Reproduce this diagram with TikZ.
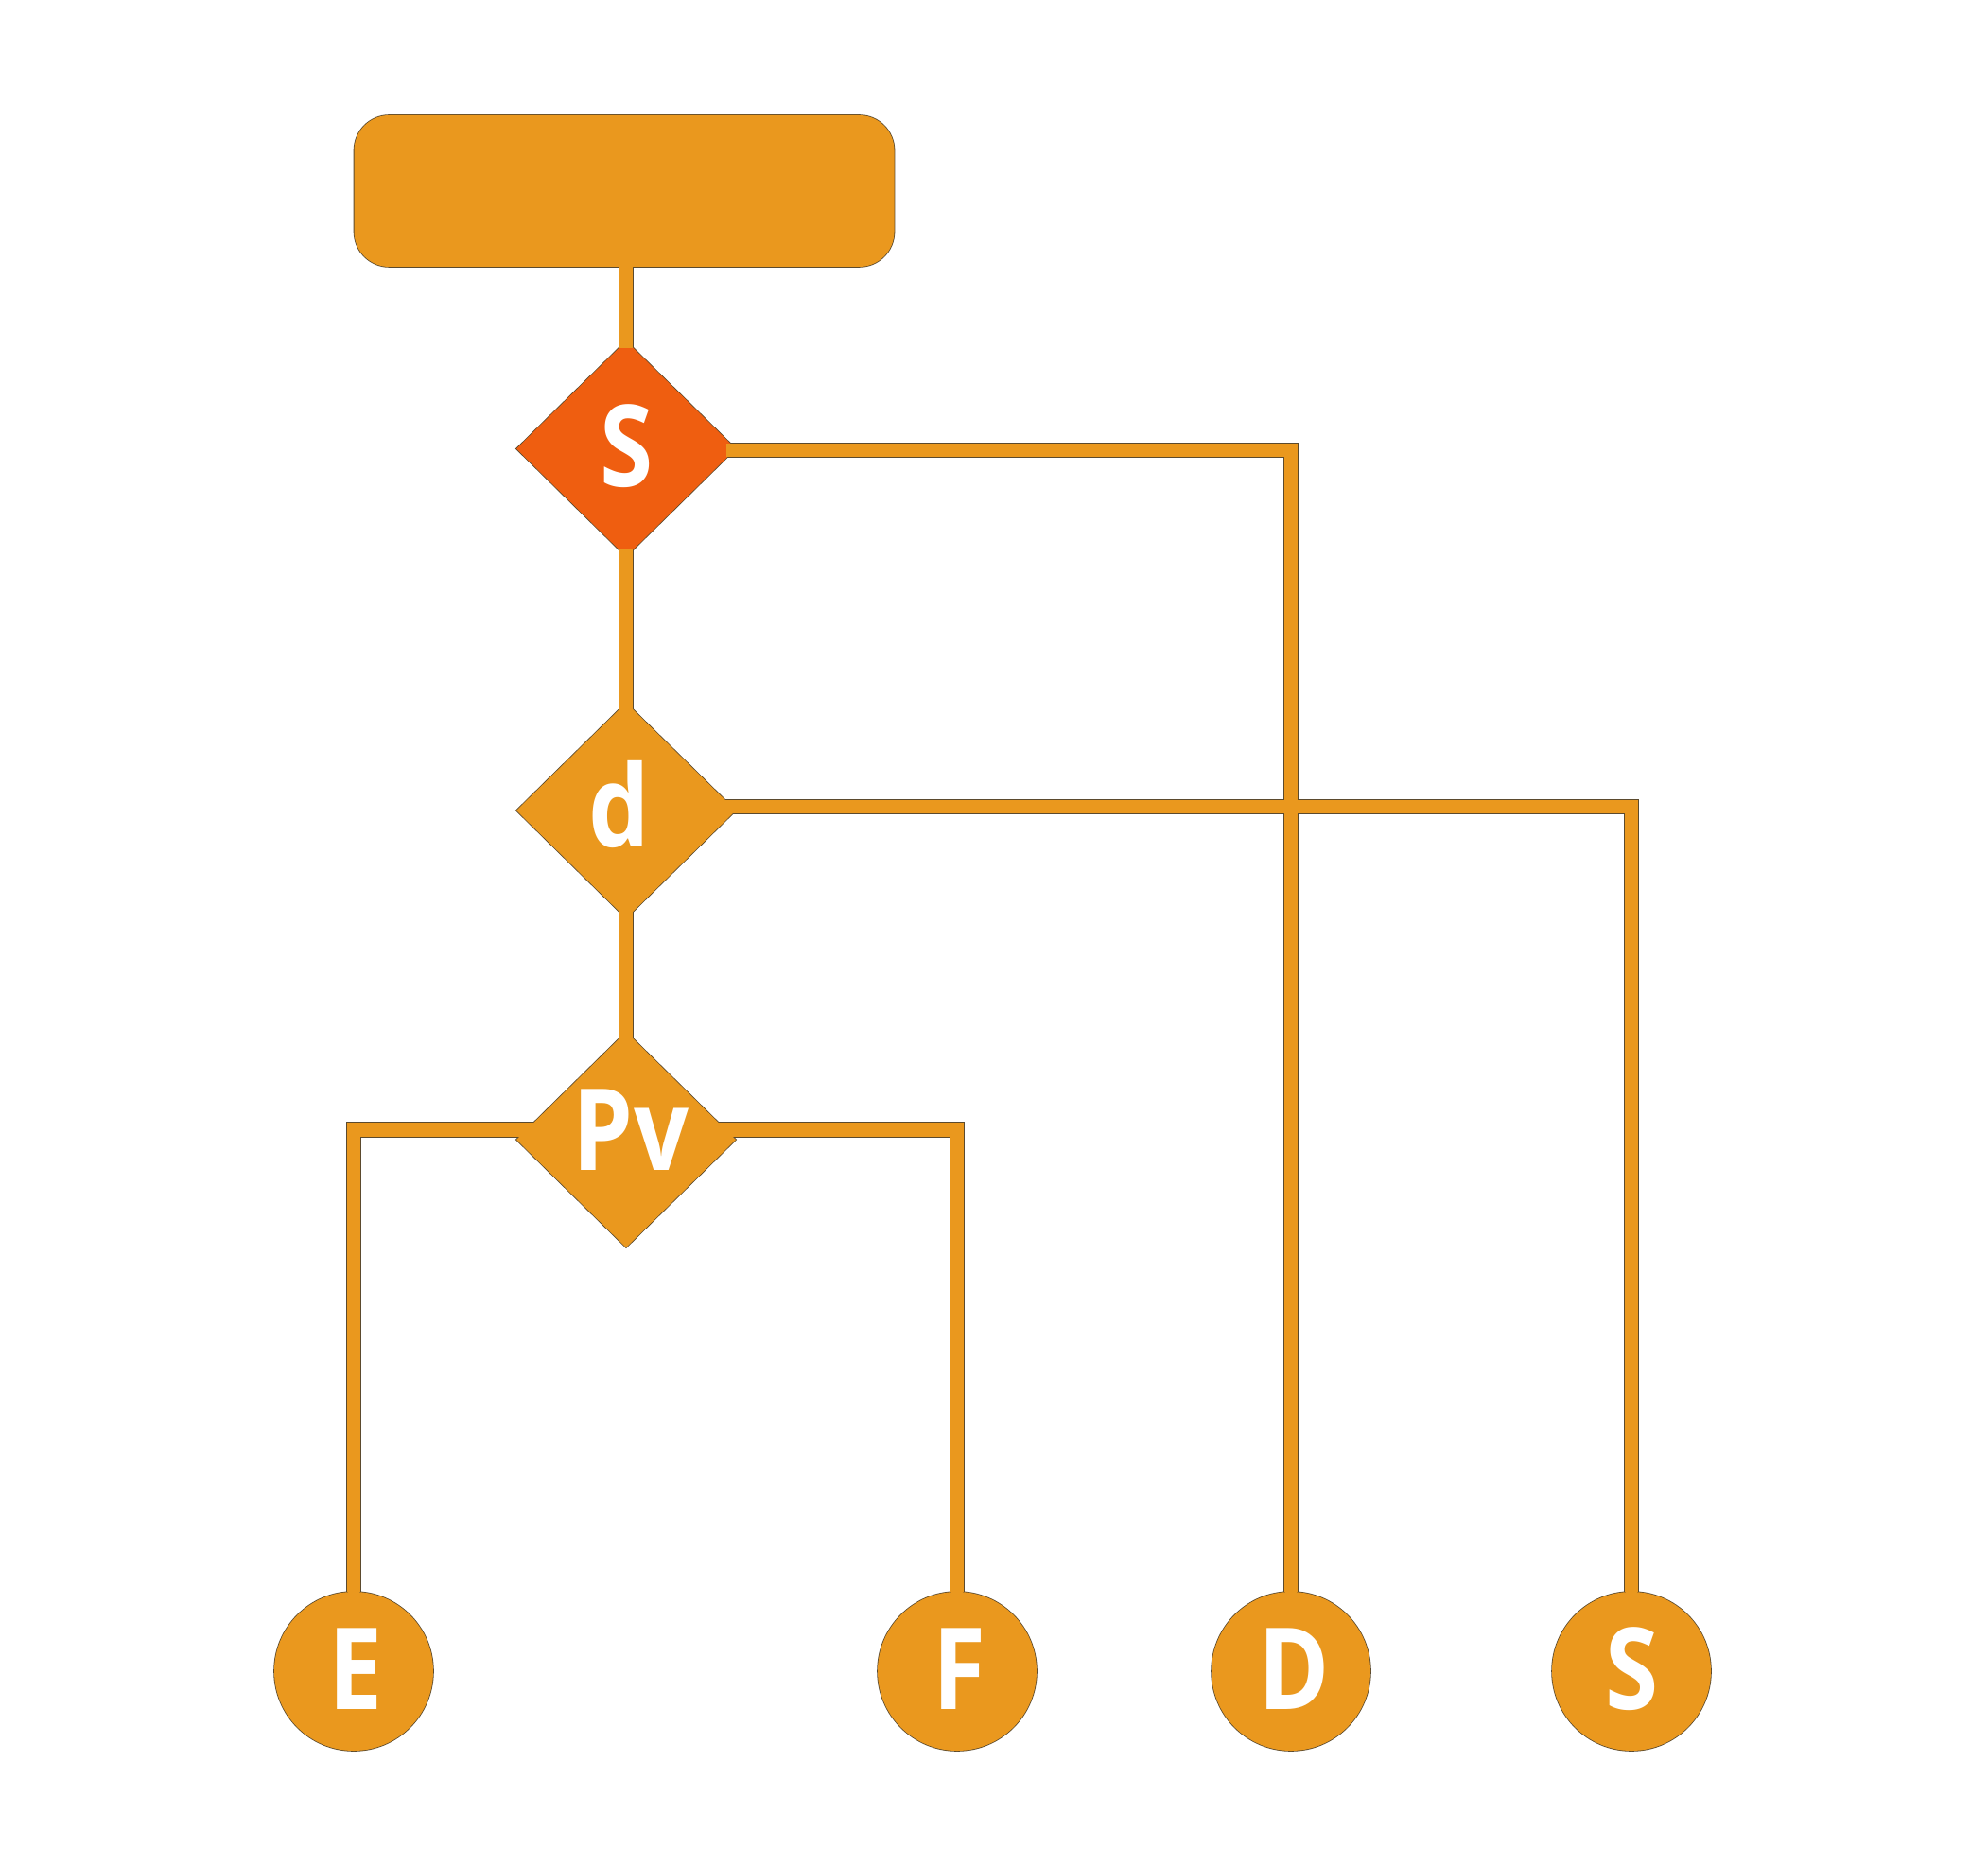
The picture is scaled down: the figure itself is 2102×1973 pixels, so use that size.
\documentclass[tikz,border=0pt]{standalone}
\usepackage{fontspec}
\setmainfont{Open Sans}[FakeStretch=0.85]
\usetikzlibrary{shapes.geometric}
\pgfdeclarelayer{outl}
\pgfdeclarelayer{core}
\pgfdeclarelayer{top}
\pgfsetlayers{outl,core,main,top}
\definecolor{orng}{RGB}{234,152,30}
\definecolor{redo}{RGB}{239,94,16}
\definecolor{edge}{RGB}{91,74,46}
\tikzset{
  box/.style={rectangle, rounded corners=18.5pt, minimum width=285.5pt, minimum height=80pt, inner sep=0pt, outer sep=0pt, fill=orng},
  dia/.style={diamond, minimum width=116pt, minimum height=114pt, inner sep=0pt, outer sep=0pt, fill=orng},
  circ/.style={circle, minimum size=84pt, inner sep=0pt, outer sep=0pt, fill=orng},
  lbl/.style={text=white, inner sep=0pt, font=\fontsize{60}{72}\selectfont\bfseries},
  lineout/.style={draw=edge, line width=8.2pt},
  linecore/.style={draw=orng, line width=7.4pt},
  shapeout/.style={draw=edge, line width=0.8pt},
}
\newcommand\myconn[1]{%
  \begin{pgfonlayer}{outl}\draw[lineout] #1;\end{pgfonlayer}%
  \begin{pgfonlayer}{core}\draw[linecore] #1;\end{pgfonlayer}}
\begin{document}
\begin{tikzpicture}[x=0.5pt,y=-0.5pt]
\useasboundingbox (0,0) rectangle (2102,1973);
% nodes
\node[box] (R) at (660,202) {};
\node[dia, fill=redo] (S) at (662,474.5) {};
\node[dia] (d) at (662,857) {};
\node[dia] (pv) at (662,1205) {};
\node[circ] (E) at (374,1767) {};
\node[circ] (F) at (1012,1767) {};
\node[circ] (D) at (1365,1767) {};
\node[circ] (Sc) at (1725,1767) {};
% labels
\node[lbl] (St) at (663,471.5) {S};
\node[lbl] (dt) at (655,850) {d};
\node[lbl] (pvt) at (667,1194.5) {Pv};
\node[lbl] (Et) at (376,1765) {E};
\node[lbl] (Ft) at (1014,1765) {F};
\node[lbl] (Dt) at (1368,1765) {D};
\node[lbl] (Sct) at (1726,1765) {S};
% shape outlines
\begin{pgfonlayer}{outl}
\draw[shapeout, rounded corners=18.5pt] (R.south west) rectangle (R.north east);
\foreach \n in {S,d,pv}{
  \draw[shapeout] (\n.north) -- (\n.east) -- (\n.south) -- (\n.west) -- cycle;
}
\foreach \n in {E,F,D,Sc}{
  \draw[shapeout] (\n.center) circle [radius=42pt];
}
\end{pgfonlayer}
% connectors
\myconn{(S |- R.center) -- (S.center)}
\myconn{(S.center) -- (d.center)}
\myconn{(d.center) -- (pv.center)}
\myconn{([yshift=-0.75pt]S.center) -| (D)}
\myconn{([yshift=2pt]d.center) -| (Sc)}
\myconn{([yshift=5.25pt]pv.center) -| (E)}
\myconn{([yshift=5.25pt]pv.center) -| (F)}
% connector ends over the diamond tips
\begin{pgfonlayer}{top}
\foreach \n in {S,d,pv}{
  \draw[linecore] ([yshift=0.5pt]\n.north) -- ([yshift=-4pt]\n.north);
}
\foreach \n in {S,d}{
  \draw[linecore] ([yshift=-0.5pt]\n.south) -- ([yshift=4pt]\n.south);
}
\draw[linecore] ([xshift=0.5pt,yshift=-0.75pt]S.east) -- ([xshift=-4.8pt,yshift=-0.75pt]S.east);
\end{pgfonlayer}
\end{tikzpicture}
\end{document}
